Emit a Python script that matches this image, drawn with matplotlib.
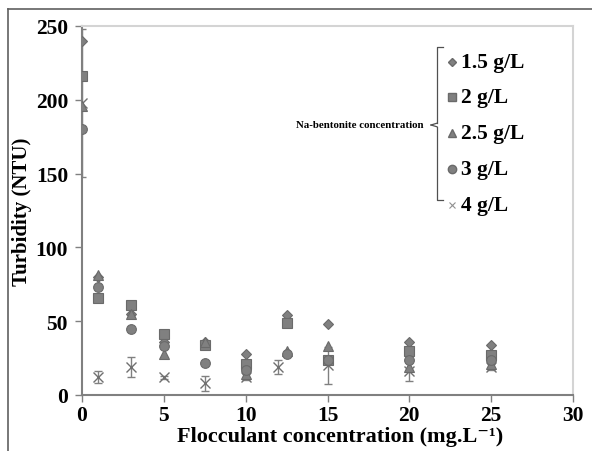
import matplotlib
matplotlib.use("Agg")
import matplotlib.pyplot as plt
from matplotlib.lines import Line2D

plt.rcParams['font.family'] = ['Liberation Serif', 'DejaVu Serif']
plt.rcParams['font.weight'] = 'bold'

# dose of flocculant (mg/L)
x_main = [0, 1, 3, 5, 7.5, 10, 12.5, 15, 20, 25]
x_4g = [0, 1, 3, 5, 7.5, 10, 12, 15, 20, 25]

turb_15 = [240, 80, 55, 36, 36, 28, 54, 48, 36, 34]
turb_2 = [216, 66, 61, 41, 34, 21, 49, 24, 30, 27]
turb_25 = [196, 81, 55, 28, 36, 14, 30, 33, 19, 21]
turb_3 = [180, 73, 45, 33, 22, 17, 28, 24, 24, 24]
turb_4 = [198, 12, 19, 12, 8, 12, 19, 20, 16, 19]
err_4 = [50, 4, 7, 1, 5, 2, 5, 12.5, 6.5, 2]

labels = ['1.5 g/L', '2 g/L', '2.5 g/L', '3 g/L', '4 g/L']
markers = ['D', 's', '^', 'o', 'x']
sizes = [5, 7, 7, 7, 7]

face = '#808080'
edge = '#6a6a6a'

fig = plt.figure(figsize=(5.92, 4.52), dpi=100)
ax = fig.add_axes([82 / 592, 56 / 452, 491 / 592, 369 / 452])

ax.errorbar(x_4g, turb_4, yerr=err_4, fmt='x', color='#707070',
            ecolor='#808080', elinewidth=1, capsize=3, capthick=1,
            markersize=7, markeredgewidth=1, zorder=2)

series = [turb_15, turb_2, turb_25, turb_3]
for vals, m, s in zip(series, markers[:4], sizes[:4]):
    ax.plot(x_main, vals, linestyle='none', marker=m, markersize=s,
            markerfacecolor=face, markeredgecolor=edge, markeredgewidth=0.8,
            zorder=3)

ax.set_xlim(0, 30)
ax.set_ylim(0, 250)
ax.set_xticks(range(0, 31, 5))
ax.set_yticks(range(0, 251, 50))
ax.tick_params(axis='both', labelsize=15.5, direction='out', length=5,
               color='#808080', width=1)
ax.tick_params(axis='y', pad=5)
ax.tick_params(axis='x', pad=2)
for lab in ax.get_xticklabels() + ax.get_yticklabels():
    lab.set_fontweight('bold')

for side in ['left', 'bottom']:
    ax.spines[side].set_color('#808080')
    ax.spines[side].set_linewidth(1.5)
for side in ['top', 'right']:
    ax.spines[side].set_color('#d4d4d4')
    ax.spines[side].set_linewidth(1.5)

fig.text(22 / 592, 1 - 212 / 452, 'Turbidity (NTU)', fontsize=15,
         fontweight='bold', rotation=90, ha='center', va='center')
fig.text(340 / 592, 1 - 437 / 452, 'Flocculant concentration (mg.L\u207b\u00b9)',
         fontsize=16, fontweight='bold', ha='center', va='center')

# custom legend with a brace
leg_y = [63, 98, 134, 170, 206]
for lab, m, s, yp in zip(labels, markers, sizes, leg_y):
    fy = 1 - yp / 452
    if m == 'x':
        fig.add_artist(Line2D([452 / 592], [fy], marker=m, markersize=5,
                              color='#909090', markeredgewidth=0.8,
                              linestyle='none'))
    else:
        fig.add_artist(Line2D([452 / 592], [fy], marker=m, markersize=s - 1,
                              markerfacecolor=face, markeredgecolor=edge,
                              linestyle='none'))
    fig.text(461 / 592, fy, lab, fontsize=15.5, fontweight='bold',
             va='center', ha='left')

bx = 437 / 592
btop = 1 - 48 / 452
bbot = 1 - 201 / 452
bmid = 1 - 126 / 452
tick = 6 / 592
brace_kw = dict(color='#505050', linewidth=0.9)
fig.add_artist(Line2D([bx + tick, bx, bx], [btop, btop, bmid + 0.004], **brace_kw))
fig.add_artist(Line2D([bx, bx, bx + tick], [bmid - 0.004, bbot, bbot], **brace_kw))
fig.add_artist(Line2D([bx - tick, bx], [bmid, bmid + 0.004], **brace_kw))
fig.add_artist(Line2D([bx - tick, bx], [bmid, bmid - 0.004], **brace_kw))
fig.text(424 / 592, bmid, 'Na-bentonite concentration', fontsize=7.8,
         fontweight='bold', ha='right', va='center')

# outer chart frame
frame_kw = dict(color='#606060', linewidth=1.2)
fig.add_artist(Line2D([8 / 592, 1], [1 - 10 / 452, 1 - 10 / 452], **frame_kw))
fig.add_artist(Line2D([8 / 592, 8 / 592], [0, 1 - 10 / 452], **frame_kw))

fig.savefig('out.png', dpi=100)
